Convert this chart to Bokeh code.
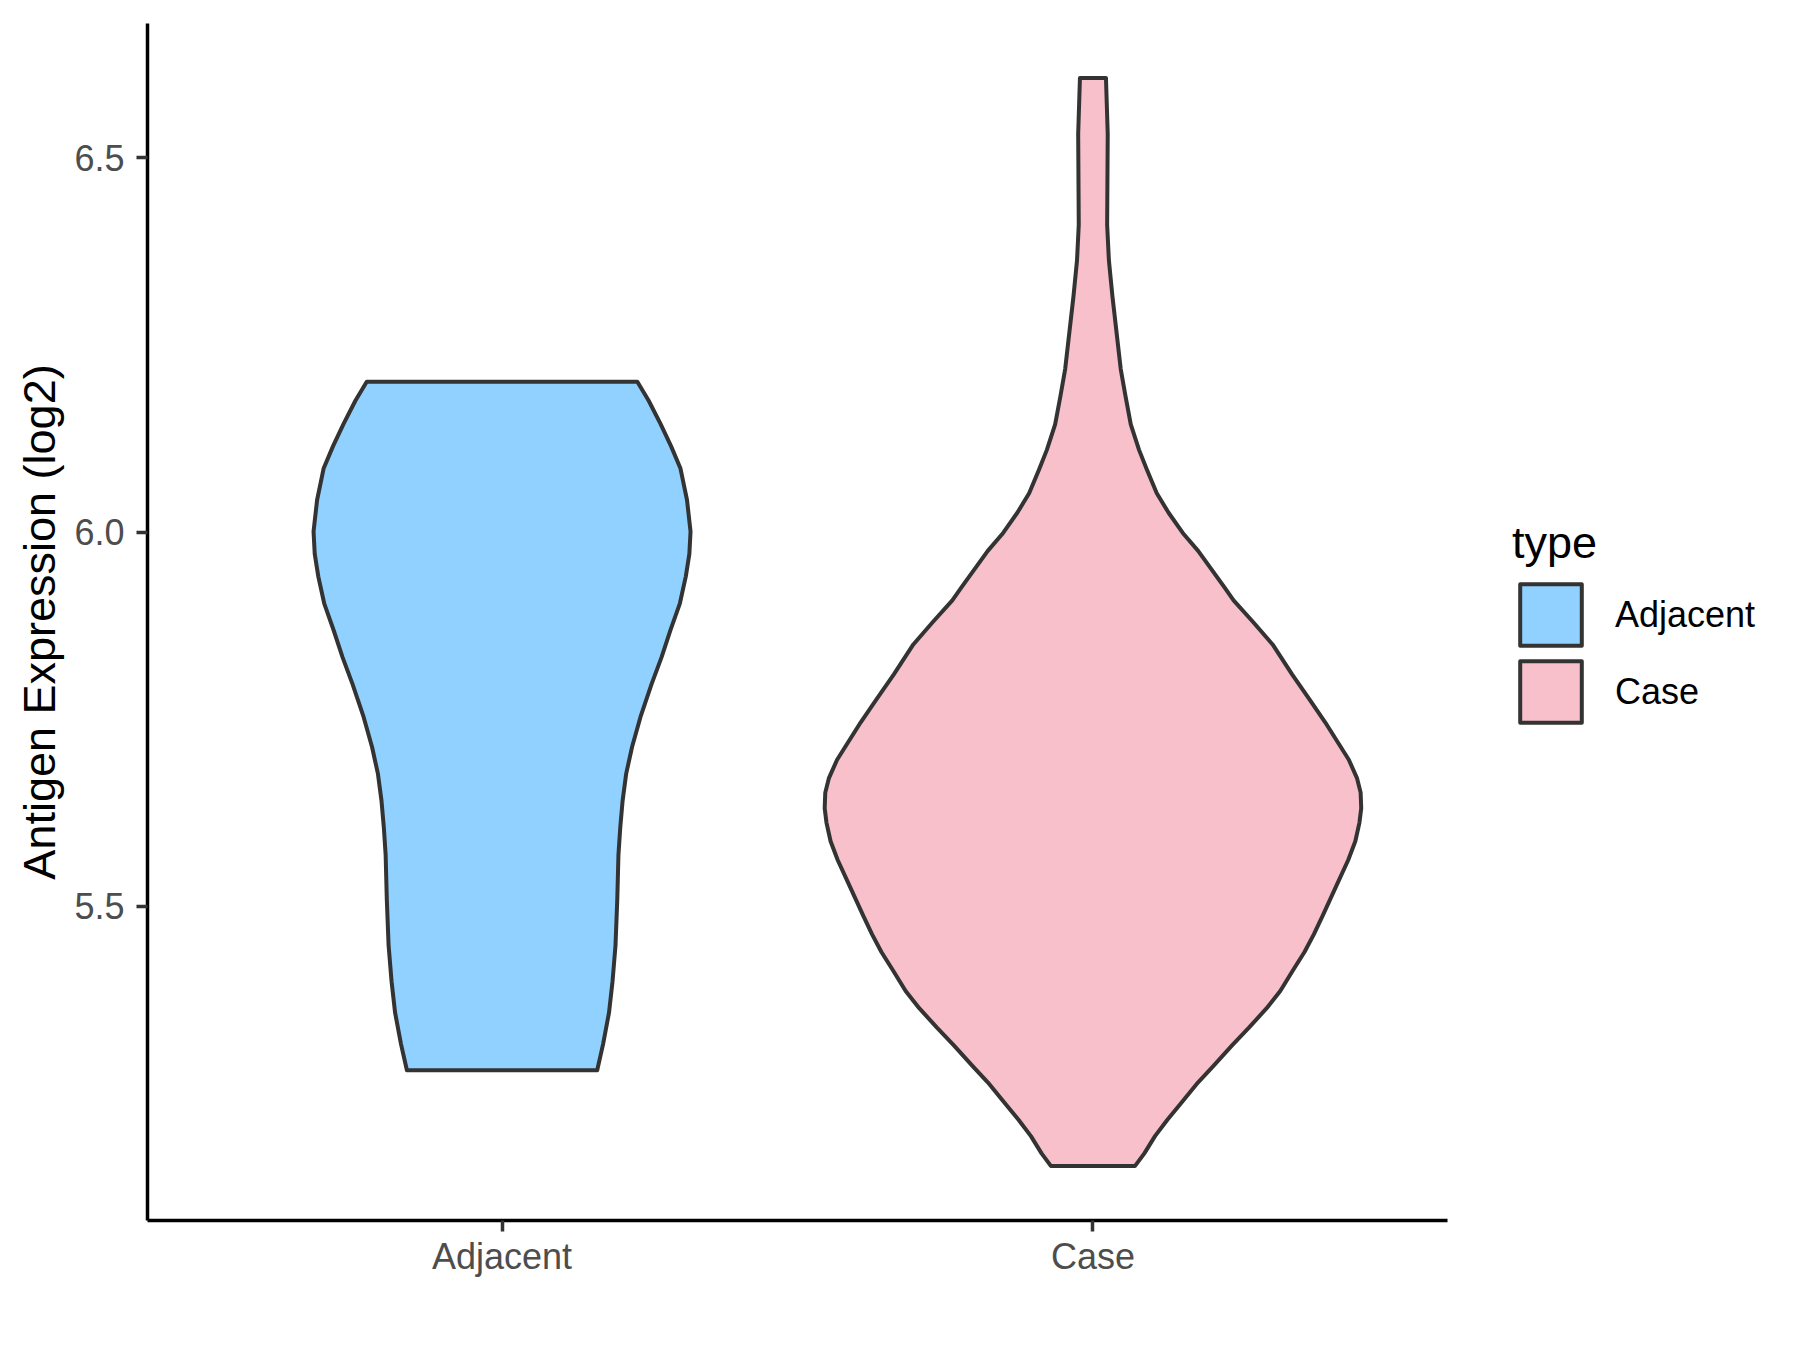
import numpy as np
from bokeh.plotting import figure
from bokeh.models import Range1d, FixedTicker, Legend, LegendItem, NumeralTickFormatter
from bokeh.embed import file_html
from bokeh.resources import INLINE

# ---- data ----
categories = ["Adjacent", "Case"]
cat_pos = [1, 2]
fill_colors = ["#91D1FF", "#F7C0CB"]

# violin outline profiles: expression (log2) and half-width in category units
adj_y = [6.201, 6.176, 6.145, 6.115, 6.085, 6.043, 6.001, 5.971, 5.941, 5.905,
         5.869, 5.833, 5.797, 5.755, 5.713, 5.677, 5.641, 5.605, 5.569, 5.509,
         5.448, 5.400, 5.358, 5.316, 5.281]
adj_hw = [0.229, 0.248, 0.268, 0.286, 0.302, 0.313, 0.319, 0.317, 0.311, 0.301,
          0.285, 0.270, 0.253, 0.235, 0.220, 0.210, 0.204, 0.200, 0.197, 0.195,
          0.192, 0.187, 0.181, 0.171, 0.161]

case_y = [6.607, 6.532, 6.411, 6.363, 6.315, 6.218, 6.182, 6.144, 6.110, 6.084,
          6.052, 6.026, 5.999, 5.975, 5.927, 5.909, 5.880, 5.850, 5.810, 5.776,
          5.746, 5.716, 5.696, 5.671, 5.652, 5.631, 5.612, 5.587, 5.562, 5.531,
          5.488, 5.463, 5.439, 5.414, 5.387, 5.364, 5.338, 5.314, 5.287, 5.265,
          5.237, 5.215, 5.193, 5.170, 5.153]
case_hw = [0.022, 0.025, 0.024, 0.027, 0.033, 0.047, 0.055, 0.064, 0.078, 0.091,
           0.108, 0.128, 0.152, 0.178, 0.222, 0.238, 0.271, 0.304, 0.337, 0.367,
           0.393, 0.417, 0.433, 0.447, 0.453, 0.454, 0.451, 0.444, 0.432, 0.414,
           0.389, 0.374, 0.358, 0.338, 0.317, 0.294, 0.264, 0.235, 0.204, 0.178,
           0.149, 0.126, 0.105, 0.087, 0.071]

y_ticks = [5.5, 6.0, 6.5]
y_title = "Antigen Expression (log2)"
legend_title = "type"

profiles = [(adj_y, adj_hw), (case_y, case_hw)]

# ---- ranges (ggplot-like expansion) ----
all_y = np.array(adj_y + case_y)
lo, hi = all_y.min(), all_y.max()
pad = 0.05 * (hi - lo)

FONT = "Liberation Sans"

PANEL_W = 1300          # width of the plotting panel (px)
FRAME_W = 1630          # frame includes room on the right for the legend
FRAME_H = 1197
x_start = cat_pos[0] - 0.6
x_stop = cat_pos[-1] + 0.6
x_end = x_start + (x_stop - x_start) * FRAME_W / PANEL_W

p = figure(frame_width=FRAME_W, frame_height=FRAME_H,
           output_backend="svg", toolbar_location=None,
           x_range=Range1d(x_start, x_end),
           y_range=Range1d(lo - pad, hi + pad),
           min_border_left=147, min_border_right=5,
           min_border_top=23, min_border_bottom=110)
p.outline_line_color = None
p.xgrid.visible = False
p.ygrid.visible = False
p.background_fill_color = "white"
p.border_fill_color = "white"

renderers = []
for (yy, hw), c, fc in zip(profiles, cat_pos, fill_colors):
    yy = np.array(yy)
    hw = np.array(hw)
    xs = np.concatenate([c - hw, (c + hw)[::-1]])
    ys = np.concatenate([yy, yy[::-1]])
    r = p.patch(xs, ys, fill_color=fc, line_color="#333333", line_width=4,
                line_join="round")
    renderers.append(r)

# axes
for ax in (p.xaxis[0], p.yaxis[0]):
    ax.axis_line_color = "black"
    ax.axis_line_width = 3.5
    ax.major_tick_line_color = "#333333"
    ax.major_tick_line_width = 3.5
    ax.major_tick_out = 11
    ax.major_tick_in = 0
    ax.minor_tick_line_color = None
    ax.major_label_text_font = FONT
    ax.major_label_text_font_size = "36px"
    ax.major_label_text_color = "#4D4D4D"

p.xaxis.bounds = (x_start, x_stop)
p.xaxis.ticker = FixedTicker(ticks=cat_pos)
p.xaxis.major_label_overrides = {c: n for c, n in zip(cat_pos, categories)}
p.xaxis.major_label_standoff = 4

p.yaxis.ticker = FixedTicker(ticks=y_ticks)
p.yaxis.formatter = NumeralTickFormatter(format="0.0")
p.yaxis.major_label_standoff = 12
p.yaxis.axis_label = y_title
p.yaxis.axis_label_text_font = FONT
p.yaxis.axis_label_text_font_size = "45px"
p.yaxis.axis_label_text_font_style = "normal"
p.yaxis.axis_label_text_color = "black"
p.yaxis.axis_label_standoff = 6

legend = Legend(items=[LegendItem(label=n, renderers=[r]) for n, r in zip(categories, renderers)],
                location=(1365, 490))
legend.title = legend_title
legend.title_text_font = FONT
legend.title_text_font_size = "45px"
legend.title_text_font_style = "normal"
legend.title_text_color = "black"
legend.title_standoff = 7
legend.label_text_font = FONT
legend.label_text_font_size = "36px"
legend.label_text_color = "black"
legend.glyph_width = 77
legend.glyph_height = 77
legend.spacing = 0
legend.label_standoff = 26
legend.padding = 0
legend.margin = 0
legend.border_line_color = None
legend.background_fill_alpha = 0
p.add_layout(legend)

open("out.html", "w").write(file_html(p, INLINE))
